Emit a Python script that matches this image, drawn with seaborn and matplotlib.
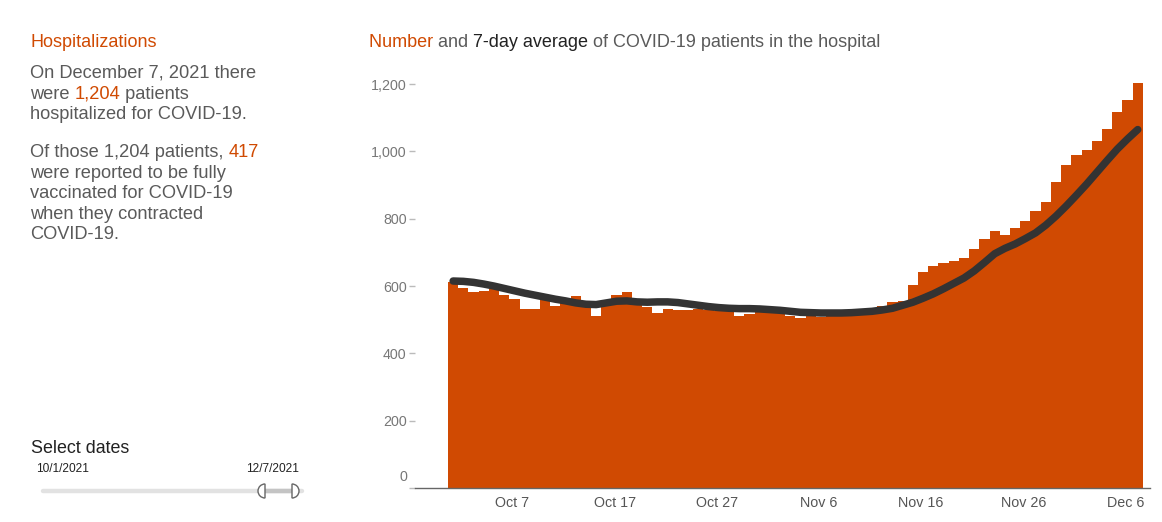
import numpy as np
import pandas as pd
import matplotlib
matplotlib.use("Agg")
import matplotlib.pyplot as plt
import seaborn as sns
from matplotlib.patches import Wedge
from matplotlib.font_manager import FontProperties

# ---------------- data ----------------
dates = pd.date_range("2021-10-01", "2021-12-07", freq="D")
patients = [
    612, 595, 581, 586, 592, 573, 563, 533, 531, 558, 540, 553, 570, 548, 512, 548,
    573, 583, 551, 538, 521, 532, 529, 529, 532, 528, 526, 525, 512, 516, 523,
    523, 521, 511, 506, 515, 508, 516, 518, 528, 532, 528, 542, 553, 556, 603,
    643, 660, 668, 674, 683, 710, 739, 763, 751, 774, 794, 824, 851, 908, 960,
    989, 1005, 1030, 1068, 1117, 1152, 1204,
]
avg7 = [
    615, 614, 611, 606, 600, 593, 586, 579, 573, 567, 561, 556, 550, 546, 545, 550,
    555, 556, 553, 552, 553, 553, 551, 547, 543, 539, 536, 534, 533, 533, 532,
    530, 528, 525, 522, 521, 520, 520, 520, 521, 523, 525, 529, 534, 543, 552,
    564, 577, 592, 608, 624, 645, 670, 696, 712, 725, 741, 758, 781, 808, 838,
    870, 903, 938, 973, 1007, 1037, 1065,
]
xtick_labels = ["Oct 7", "Oct 17", "Oct 27", "Nov 6", "Nov 16", "Nov 26", "Dec 6"]
xtick_dates = ["2021-10-07", "2021-10-17", "2021-10-27", "2021-11-06",
               "2021-11-16", "2021-11-26", "2021-12-06"]
ytick_values = [0, 200, 400, 600, 800, 1000, 1200]
ytick_labels = ["0", "200", "400", "600", "800", "1,000", "1,200"]

ORANGE = "#d04a02"
GRAY = "#5a5a5a"
DARK = "#222222"
LINE = "#333333"

sns.set_theme(style="white")
plt.rcParams["font.family"] = ["Liberation Sans", "DejaVu Sans"]

W, H = 1162, 522
fig = plt.figure(figsize=(W / 100, H / 100), dpi=100)
ov = fig.add_axes([0, 0, 1, 1])
ov.set_xlim(0, W)
ov.set_ylim(H, 0)
ov.axis("off")

L, R, B, T = 415, 1150, 488, 70
ax = fig.add_axes([L / W, 1 - B / H, (R - L) / W, (B - T) / H])

df = pd.DataFrame({"day": np.arange(len(dates)), "patients": patients, "avg": avg7})
sns.barplot(data=df, x="day", y="patients", color=ORANGE, saturation=1,
            width=1.0, linewidth=0, errorbar=None, ax=ax)
sns.lineplot(data=df, x="day", y="avg", color=LINE, linewidth=5.4, ax=ax,
             solid_capstyle="round")

ax.set_xlim(-3.73, 68.2)
ax.set_ylim(0, 1242)
pos = [list(dates).index(pd.Timestamp(d)) - 0.2 for d in xtick_dates]
ax.set_xticks(pos)
ax.set_xticklabels(xtick_labels)
ax.set_yticks(ytick_values)
ax.set_yticklabels([""] + ytick_labels[1:])
ax.set_xlabel("")
ax.set_ylabel("")
for s in ["top", "right", "left"]:
    ax.spines[s].set_visible(False)
ax.spines["bottom"].set_color("#666666")
ax.spines["bottom"].set_linewidth(1)
ax.tick_params(axis="y", length=4, width=1, color="#bbbbbb", pad=2,
               labelsize=10.3, labelcolor="#777777", left=True)
ax.tick_params(axis="x", length=0, pad=6, labelsize=10.3, labelcolor="#555555")
ax.annotate("0", xy=(0, 0), xycoords=("axes fraction", "data"),
            xytext=(-8, 11), textcoords="offset pixels", ha="right", va="center",
            fontsize=10.3, color="#777777")

# ---------------- text helpers ----------------
fig.canvas.draw()
rend = fig.canvas.get_renderer()


def tw(s, size):
    fp = FontProperties(family=["Liberation Sans"], size=size)
    w1, _, _ = rend.get_text_width_height_descent(s + "I", fp, ismath=False)
    w2, _, _ = rend.get_text_width_height_descent("I", fp, ismath=False)
    return w1 - w2


def fit(s, target):
    return 10 * target / tw(s, 10)


def rich(x, y, parts, size):
    prefix = ""
    for s, c in parts:
        ov.text(x + (tw(prefix, size) if prefix else 0), y, s, color=c,
                fontsize=size, ha="left", va="baseline")
        prefix += s


title_size = fit("Number and 7-day average of COVID-19 patients in the hospital", 512)
para_size = fit("On December 7, 2021 there", 227)

rich(369, 47, [("Number ", ORANGE), ("and ", GRAY), ("7-day average ", DARK),
               ("of COVID-19 patients in the hospital", GRAY)], title_size)
rich(30, 47, [("Hospitalizations", ORANGE)], title_size)

lh = 20.6
rich(30, 78, [("On December 7, 2021 there", GRAY)], para_size)
rich(30, 78 + lh, [("were ", GRAY), ("1,204", ORANGE), (" patients", GRAY)], para_size)
rich(30, 78 + 2 * lh, [("hospitalized for COVID-19.", GRAY)], para_size)

y2 = 157
rich(30, y2, [("Of those 1,204 patients, ", GRAY), ("417", ORANGE)], para_size)
rich(30, y2 + lh, [("were reported to be fully", GRAY)], para_size)
rich(30, y2 + 2 * lh, [("vaccinated for COVID-19", GRAY)], para_size)
rich(30, y2 + 3 * lh, [("when they contracted", GRAY)], para_size)
rich(30, y2 + 4 * lh, [("COVID-19.", GRAY)], para_size)

sel_size = fit("Select dates", 99)
rich(31, 453, [("Select dates", DARK)], sel_size)
d_size = fit("10/1/2021", 53)
rich(36, 472, [("10/1/2021", DARK)], d_size)
rich(246, 472, [("12/7/2021", DARK)], d_size)

# slider
ov.plot([43, 302], [491, 491], color="#e2e2e2", lw=3.2, solid_capstyle="round", zorder=2)
ov.plot([265, 292], [491, 491], color="#c4c4c4", lw=3.2, zorder=3)
ov.add_patch(Wedge((265, 491), 7, 90, 270, facecolor="white", edgecolor="#666666",
                   lw=1, zorder=4))
ov.add_patch(Wedge((292, 491), 7, -90, 90, facecolor="white", edgecolor="#666666",
                   lw=1, zorder=4))

fig.savefig("out.png", dpi=100)
